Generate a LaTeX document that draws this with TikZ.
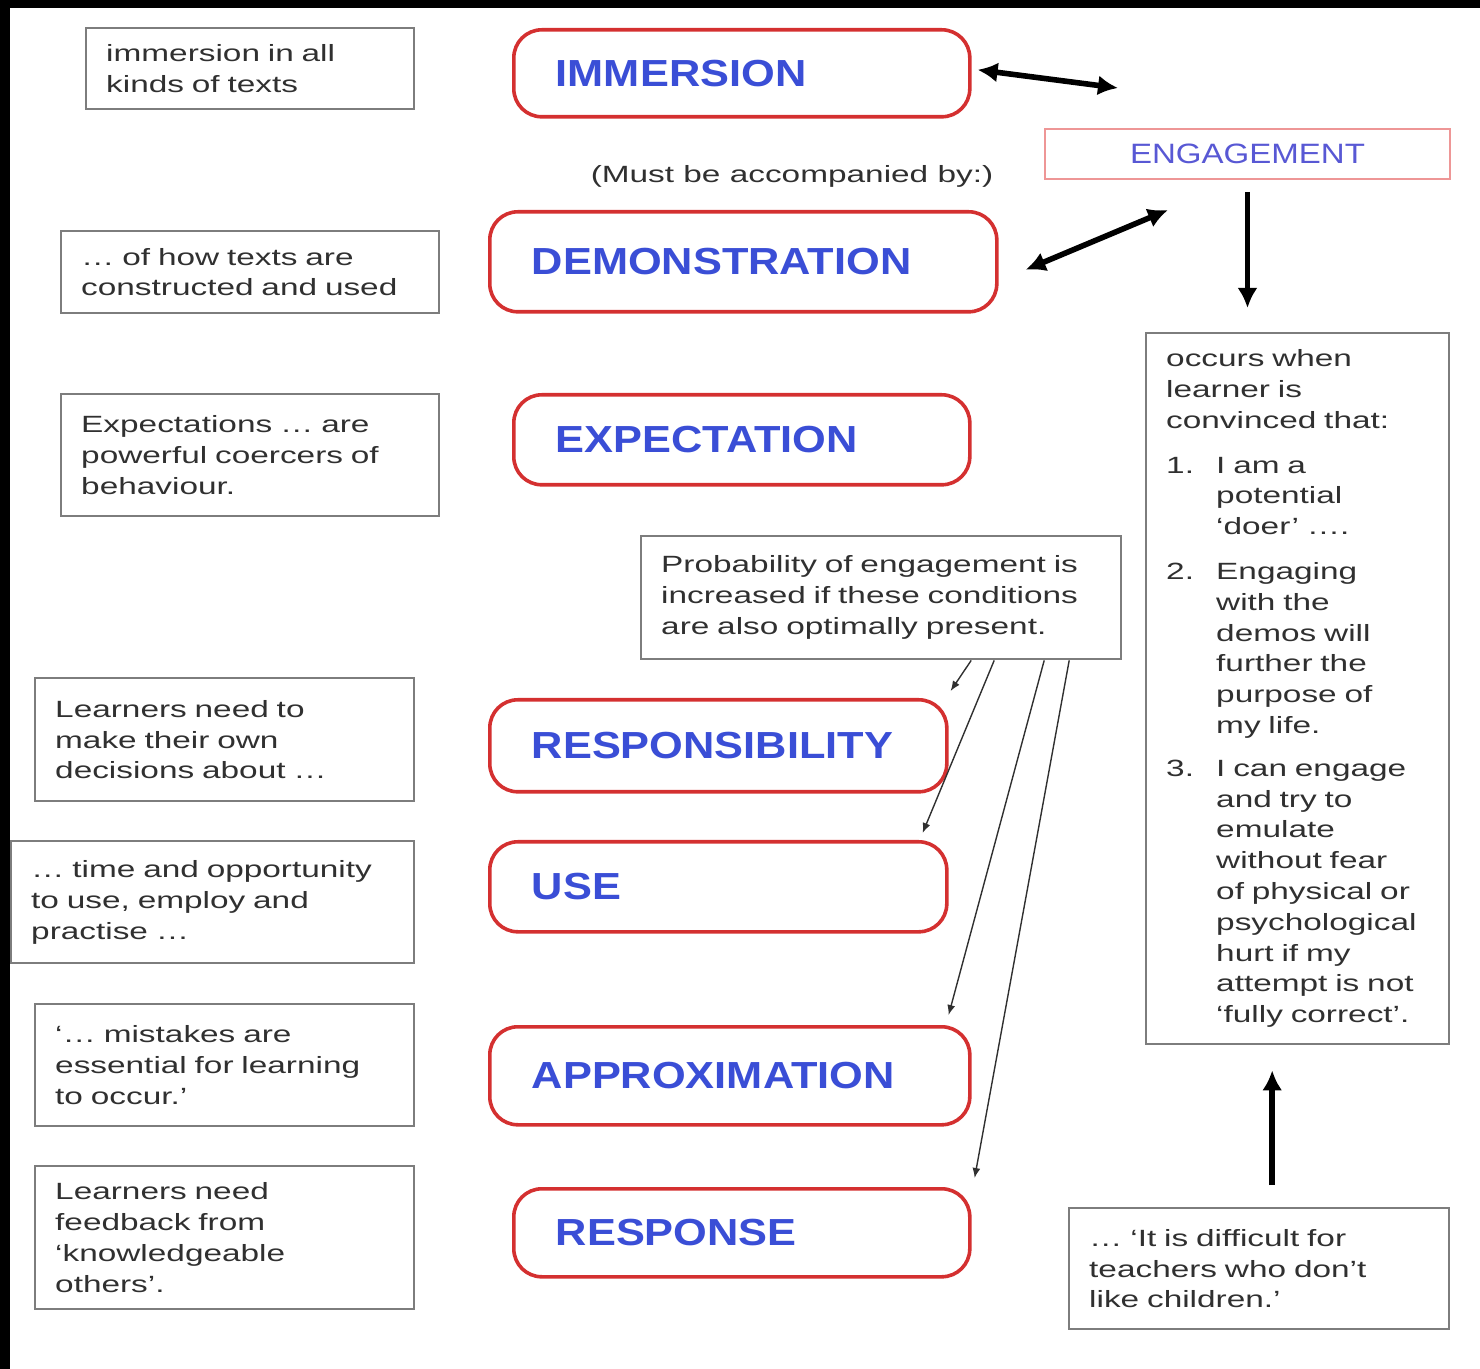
\documentclass[tikz,border=0pt]{standalone}
\usepackage{fontspec}
\setsansfont{Liberation Sans}
\newfontfamily\noteface[FakeStretch=1.42]{Liberation Sans}
\newfontfamily\stageface[FakeStretch=1.15]{Liberation Sans}
\newfontfamily\engageface[FakeStretch=1.18]{Liberation Sans}
\usetikzlibrary{arrows.meta,calc}

\definecolor{stageRed}{RGB}{212,48,48}
\definecolor{stageBlue}{RGB}{58,78,214}
\definecolor{engageBlue}{RGB}{88,88,212}
\definecolor{engagePink}{RGB}{238,150,150}
\definecolor{noteGrey}{RGB}{125,125,125}
\definecolor{noteText}{RGB}{48,48,48}

\newcommand{\itemNo}[1]{\makebox[25pt][l]{#1}}
\newcommand{\itemGap}{\hspace*{25pt}}

\begin{document}
\begin{tikzpicture}[x=0.5pt, y=-0.5pt, >=latex]

    %
    % Styles for stages, notes and arrows
    %
    \tikzstyle{stage} = [draw=stageRed, line width=1.8pt, rectangle, rounded corners=14pt, anchor=north west,
                         align=left, inner xsep=21pt, text=stageBlue,
                         font={\stageface\bfseries\fontsize{18.85pt}{22pt}\selectfont}]
    \tikzstyle{note} = [draw=noteGrey, line width=1.2pt, rectangle, anchor=north west, align=left,
                        inner xsep=10pt, text=noteText, font={\noteface\fontsize{11.75pt}{15.4pt}\selectfont}]
    \tikzstyle{engage} = [draw=engagePink, line width=1pt, rectangle, anchor=north west, minimum width=202.5pt,
                          minimum height=25pt, text=engageBlue, font={\engageface\fontsize{14pt}{16pt}\selectfont}];
    \tikzstyle{bigArrow} = [black, line width=2.8pt, >={Latex[length=10pt,width=10pt]}];
    \tikzstyle{thinFlow} = [->, noteText, line width=0.7pt, >={Latex[length=5pt,width=4pt]}];

    \useasboundingbox (0,0) rectangle (1480,1369);
    \fill[black] (0,0) rectangle (10,1369);
    \fill[black] (0,0) rectangle (1480,8);

    %
    % Position stages
    %
    \node[stage, name=immersion, text width=186pt, minimum height=43.5pt] at (512,28) {IMMERSION};
    \node[stage, name=demonstration, text width=211.5pt, minimum height=50pt] at (488,210) {DEMONSTRATION};
    \node[stage, name=expectation, text width=186pt, minimum height=45pt] at (512,393) {EXPECTATION};
    \node[stage, name=responsibility, text width=186.5pt, minimum height=46pt] at (488,698) {RESPONSIBILITY};
    \node[stage, name=use, text width=186.5pt, minimum height=45pt] at (488,840) {USE};
    \node[stage, name=approximation, text width=198pt, minimum height=49pt] at (488,1025) {APPROXIMATION};
    \node[stage, name=response, text width=186pt, minimum height=44pt] at (512,1187) {RESPONSE};

    \node[engage, name=engagement] at (1044,128) {ENGAGEMENT};
    \node[note, draw=none, anchor=center, name=mustNote] at (792,176) {(Must be accompanied by:)};

    %
    % Position notes
    %
    \node[note, name=immersionNote, text width=144pt, minimum height=40.5pt] at (85,27)
      {immersion in all\\kinds of texts};
    \node[note, name=demonstrationNote, text width=169pt, minimum height=41pt] at (60,230)
      {… of how texts are\\constructed and used};
    \node[note, name=expectationNote, text width=169pt, minimum height=61pt] at (60,393)
      {Expectations … are\\powerful coercers of\\behaviour.};
    \node[note, name=responsibilityNote, text width=169.5pt, minimum height=61.5pt] at (34,677)
      {Learners need to\\make their own\\decisions about …};
    \node[note, name=useNote, text width=181.5pt, minimum height=61pt] at (10,840)
      {… time and opportunity\\to use, employ and\\practise …};
    \node[note, name=approximationNote, text width=169.5pt, minimum height=61pt] at (34,1003)
      {‘… mistakes are\\essential for learning\\to occur.’};
    \node[note, name=responseNote, text width=169.5pt, minimum height=71.5pt] at (34,1165)
      {Learners need\\feedback from\\‘knowledgeable\\others’.};

    \node[note, name=probability, text width=220pt, minimum height=61.5pt] at (640,535)
      {Probability of engagement is\\increased if these conditions\\are also optimally present.};
    \node[note, name=occurs, text width=131.5pt, minimum height=355.5pt] at (1145,332)
      {occurs when\\learner is\\convinced that:\\[7pt]
       \itemNo{1.}I am a\\\itemGap potential\\\itemGap ‘doer’ ….\\[7pt]
       \itemNo{2.}Engaging\\\itemGap with the\\\itemGap demos will\\\itemGap further the\\
       \itemGap purpose of\\\itemGap my life.\\[6pt]
       \itemNo{3.}I can engage\\\itemGap and try to\\\itemGap emulate\\\itemGap without fear\\
       \itemGap of physical or\\\itemGap psychological\\\itemGap hurt if my\\
       \itemGap attempt is not\\\itemGap ‘fully correct’.};
    \node[note, name=difficult, text width=170pt, minimum height=60.5pt] at (1068,1207)
      {… ‘It is difficult for\\teachers who don’t\\like children.’};

    %
    % Connect via arrows
    %
    \coordinate (immersionFree) at (1118,88);
    \coordinate (demonstrationFree) at (1168,210);
    \draw[bigArrow, <->] ([xshift=3pt,yshift=1.75pt]immersion.east) -- (immersionFree);
    \draw[bigArrow, <->] ([xshift=13.5pt,yshift=-4pt]demonstration.east) -- (demonstrationFree);
    \draw[bigArrow, ->] ([yshift=-6pt]engagement.south)
      -- ($(engagement.south |- occurs.north)+(0,12pt)$);
    \draw[bigArrow, ->] ([xshift=6.5pt,yshift=11pt]difficult.north)
      -- ($(difficult.north |- occurs.south)+(6.5pt,-12.5pt)$);

    \draw[thinFlow] ([xshift=45pt]probability.south) -- ([shift={(1pt,3.5pt)}]responsibility.north east);
    \draw[thinFlow] ([xshift=56.5pt]probability.south) -- ([shift={(-13pt,3.5pt)}]use.north east);
    \draw[thinFlow] ([xshift=81.5pt]probability.south) -- ([shift={(-11.5pt,5pt)}]approximation.north east);
    \draw[thinFlow] ([xshift=94pt]probability.south) -- ([shift={(1.5pt,4.5pt)}]response.north east);
\end{tikzpicture}
\end{document}
